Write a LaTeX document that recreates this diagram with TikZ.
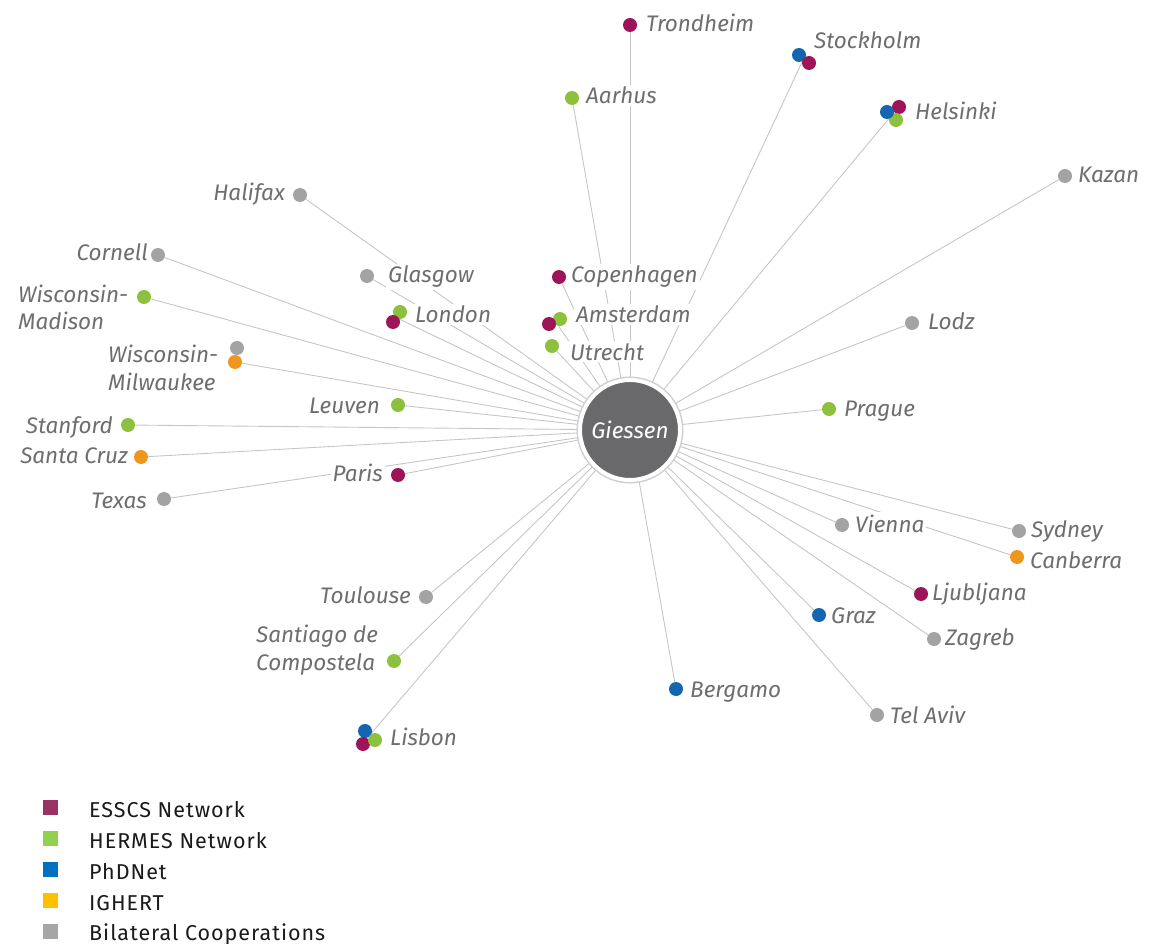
\documentclass[tikz,border=0pt]{standalone}
\usepackage{fontspec}
\setmainfont{Fira Sans}
\newfontfamily\legfont[LetterSpace=4.5]{Fira Sans}
\usetikzlibrary{backgrounds}
\definecolor{cE}{HTML}{9E1458}
\definecolor{cH}{HTML}{8DC03C}
\definecolor{cP}{HTML}{1466B0}
\definecolor{cI}{HTML}{F0961E}
\definecolor{cB}{HTML}{A3A3A3}
\definecolor{lE}{HTML}{993366}
\definecolor{lH}{HTML}{92D050}
\definecolor{lP}{HTML}{0070C0}
\definecolor{lI}{HTML}{FFC000}
\definecolor{lB}{HTML}{A6A6A6}
\definecolor{labgray}{HTML}{6E6E6E}
\definecolor{linegray}{HTML}{C6C6C6}
\definecolor{hubgray}{HTML}{69696B}
\definecolor{ringgray}{HTML}{CFCFCF}
\definecolor{legtext}{HTML}{1A1A1A}
\begin{document}
\begin{tikzpicture}[x=1pt,y=-1pt,
  dot/.style={circle, inner sep=0pt, minimum size=14pt, draw=none},
  lab/.style={font=\fontsize{22.5}{28}\selectfont\itshape, text=labgray, fill=white, inner sep=2pt},
  labl/.style={lab, anchor=base west},
  labr/.style={lab, anchor=base east},
  labml/.style={lab, anchor=base west, align=left},
  link/.style={draw=linegray, line width=0.9pt},
  hub/.style={circle, minimum size=100pt, fill=hubgray, text=white,
    font=\fontsize{22.5}{28}\selectfont\itshape, draw=white, line width=4pt,
    preaction={draw=ringgray, line width=7pt}},
  legsq/.style={minimum size=15pt, inner sep=0pt, draw=none},
  legtx/.style={anchor=base west, inner sep=0pt, text=legtext, font=\legfont\fontsize{21.5}{26}\selectfont}
]
\useasboundingbox (0,0) rectangle (1152,944);

% hub
\node[hub] (giessen) at (630,430) {Giessen};

% ---- dots ----
\node[dot, fill=cE] (trondheim) at (630,25) {};
\node[dot, fill=cH] (aarhus) at (572,98) {};
\node[dot, fill=cP] (stockholmP) at (799,55) {};
\node[dot, fill=cE] (stockholmE) at (809,63) {};
\coordinate (stockholm) at (803,60);
\node[dot, fill=cE] (helsinkiE) at (899,107) {};
\node[dot, fill=cH] (helsinkiH) at (896,120) {};
\node[dot, fill=cP] (helsinkiP) at (887,112) {};
\coordinate (helsinki) at (891,116);
\node[dot, fill=cB] (kazan) at (1065,176) {};
\node[dot, fill=cB] (lodz) at (912,323) {};
\node[dot, fill=cH] (prague) at (829,409) {};
\node[dot, fill=cB] (sydney) at (1019,531) {};
\node[dot, fill=cI] (canberra) at (1017,557) {};
\node[dot, fill=cB] (vienna) at (842,525) {};
\node[dot, fill=cE] (ljubljana) at (921,594) {};
\node[dot, fill=cP] (graz) at (819,615) {};
\node[dot, fill=cB] (zagreb) at (934,639) {};
\node[dot, fill=cB] (telaviv) at (877,715) {};
\node[dot, fill=cP] (bergamo) at (676,689) {};
\node[dot, fill=cP] (lisbonP) at (365,731) {};
\node[dot, fill=cE] (lisbonE) at (363,744) {};
\node[dot, fill=cH] (lisbonH) at (375,740) {};
\coordinate (lisbon) at (369,736);
\node[dot, fill=cB] (glasgow) at (367,276) {};
\node[dot, fill=cH] (londonH) at (400,312) {};
\node[dot, fill=cE] (londonE) at (393,322) {};
\coordinate (london) at (397,318);
\node[dot, fill=cE] (copenhagen) at (559,277) {};
\node[dot, fill=cH] (amsterdamH) at (560,319) {};
\node[dot, fill=cE] (amsterdamE) at (549,324) {};
\coordinate (amsterdam) at (555,321);
\node[dot, fill=cH] (utrecht) at (552,346) {};
\node[dot, fill=cB] (halifax) at (300,195) {};
\node[dot, fill=cB] (cornell) at (158,255) {};
\node[dot, fill=cH] (wmadison) at (144,297) {};
\node[dot, fill=cB] (wmilwaukeeB) at (237,348) {};
\node[dot, fill=cI] (wmilwaukee) at (235,362) {};
\node[dot, fill=cH] (leuven) at (398,405) {};
\node[dot, fill=cH] (stanford) at (128,425) {};
\node[dot, fill=cI] (santacruz) at (141,457) {};
\node[dot, fill=cE] (paris) at (398,475) {};
\node[dot, fill=cB] (texas) at (164,499) {};
\node[dot, fill=cB] (toulouse) at (426,597) {};
\node[dot, fill=cH] (santiago) at (394,661) {};

% ---- labels ----
\node[labl] (trondheimL) at (644,32) {Trondheim};
\node[labl] (aarhusL) at (584,104) {Aarhus};
\node[labl] (stockholmL) at (812,49) {Stockholm};
\node[labl] (helsinkiL) at (913,120) {Helsinki};
\node[labl] (kazanL) at (1076,183) {Kazan};
\node[labl] (lodzL) at (926,330) {Lodz};
\node[labl] (pragueL) at (842,416) {Prague};
\node[labl] (sydneyL) at (1029,537) {Sydney};
\node[labl] (canberraL) at (1028,568) {Canberra};
\node[labl] (viennaL) at (853,532) {Vienna};
\node[labl] (ljubljanaL) at (930,600) {Ljubljana};
\node[labl] (grazL) at (829,623) {Graz};
\node[labl] (zagrebL) at (943,645) {Zagreb};
\node[labl] (telavivL) at (888,723) {Tel Aviv};
\node[labl] (bergamoL) at (688,697) {Bergamo};
\node[labl] (lisbonL) at (388,745) {Lisbon};
\node[labl] (glasgowL) at (386,283) {Glasgow};
\node[labl] (londonL) at (413,323) {London};
\node[labl] (copenhagenL) at (569,283) {Copenhagen};
\node[labl] (amsterdamL) at (574,323) {Amsterdam};
\node[labl] (utrechtL) at (568,360) {Utrecht};
\node[labr] (halifaxL) at (287,201) {Halifax};
\node[labr] (cornellL) at (150,261) {Cornell};
\node[labml] (wmadisonL) at (16,330) {Wisconsin-\\Madison};
\node[labml] (wmilwaukeeL) at (106,390) {Wisconsin-\\Milwaukee};
\node[labr] (leuvenL) at (382,413) {Leuven};
\node[labr] (stanfordL) at (115,433) {Stanford};
\node[labr] (santacruzL) at (130,463) {Santa Cruz};
\node[labr] (parisL) at (385,481) {Paris};
\node[labr] (texasL) at (149,508) {Texas};
\node[labr] (toulouseL) at (413,603) {Toulouse};
\node[labml] (santiagoL) at (254,670) {Santiago de\\Compostela};

% ---- connectors ----
\begin{scope}[on background layer]
\foreach \c in {trondheim,aarhus,stockholm,helsinki,kazan,lodz,prague,sydney,
  canberra,vienna,ljubljana,graz,zagreb,telaviv,bergamo,lisbon,glasgow,london,
  copenhagen,amsterdam,utrecht,halifax,cornell,wmadison,wmilwaukee,leuven,
  stanford,santacruz,paris,texas,toulouse,santiago}
  \draw[link] (giessen) -- (\c);
\end{scope}

% ---- legend ----
\node[legsq, fill=lE] (sqE) at (50,807) {};
\node[legsq, fill=lH] (sqH) at (50,838) {};
\node[legsq, fill=lP] (sqP) at (50,869) {};
\node[legsq, fill=lI] (sqI) at (50,900) {};
\node[legsq, fill=lB] (sqB) at (50,931) {};
\node[legtx] (txE) at (89,817) {ESSCS Network};
\node[legtx] (txH) at (89,848) {HERMES Network};
\node[legtx] (txP) at (89,879) {PhDNet};
\node[legtx] (txI) at (89,910) {IGHERT};
\node[legtx] (txB) at (89,940) {Bilateral Cooperations};
\end{tikzpicture}
\end{document}
